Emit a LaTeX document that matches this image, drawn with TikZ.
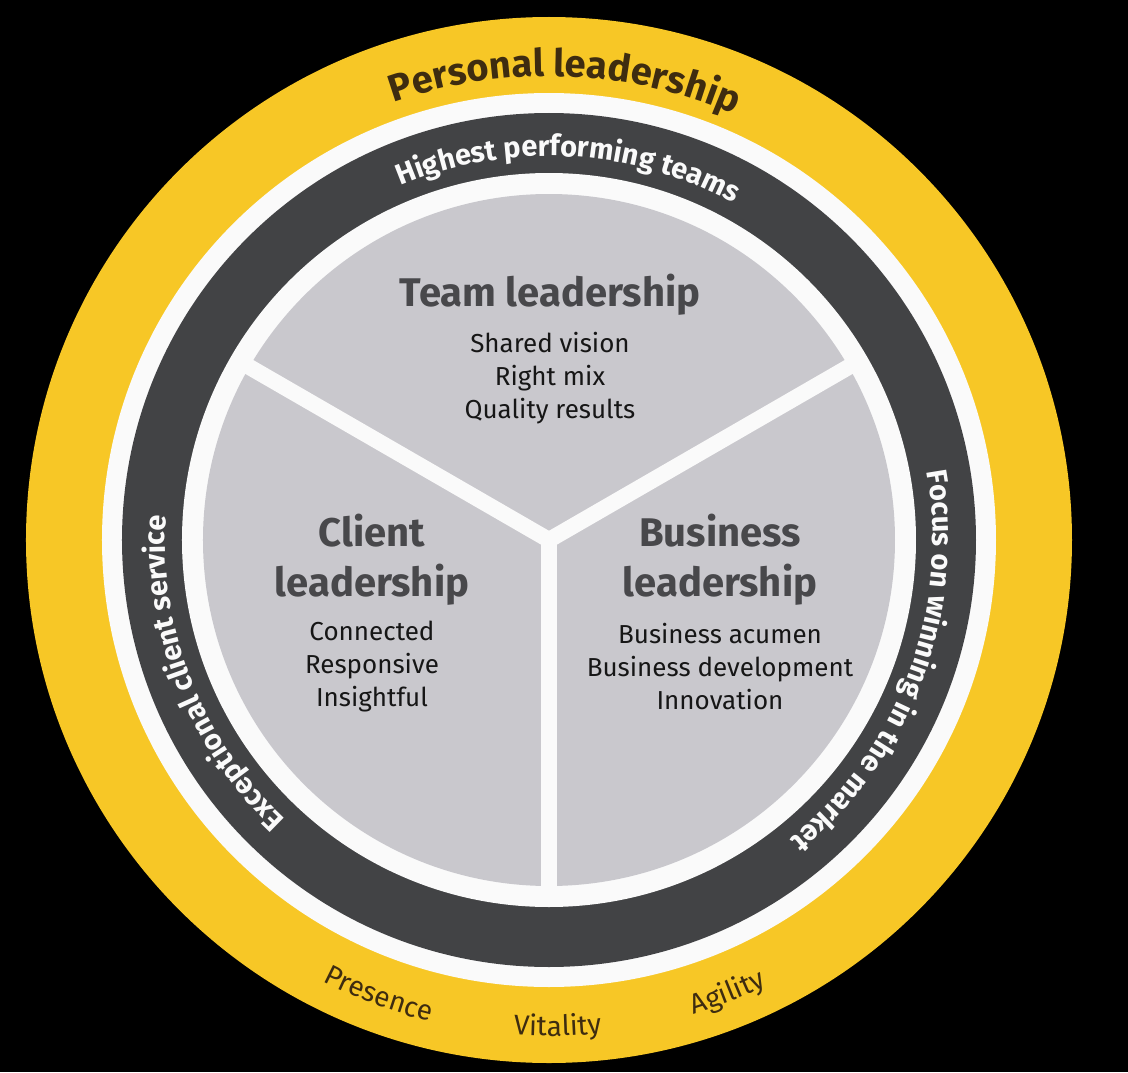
\documentclass[tikz,border=0pt]{standalone}
\usepackage{fontspec}
\setmainfont{Fira Sans}
\usepackage{xcolor}
\usepackage{tikz}
\usetikzlibrary{positioning, decorations.text}
\definecolor{eyyellow}{RGB}{247,199,38}
\definecolor{ringdark}{RGB}{66,67,69}
\definecolor{discgray}{RGB}{201,200,205}
\definecolor{headgray}{RGB}{72,72,75}
\definecolor{itemblack}{RGB}{22,22,22}
\definecolor{yellowtext}{RGB}{62,44,16}
\definecolor{offwhite}{RGB}{250,250,250}
\newcommand{\yellowringfont}{\fontsize{38}{38}\selectfont\bfseries}
\newcommand{\darkringfont}{\fontsize{29}{29}\selectfont\bfseries}
\newcommand{\traitfont}{\fontsize{28}{28}\selectfont}
\tikzstyle{heading} = [align=center, text=headgray, font=\fontsize{40}{50}\selectfont\bfseries]
\tikzstyle{items} = [align=center, text=itemblack, font=\fontsize{26}{33}\selectfont]
\tikzstyle{spoke} = [draw=offwhite, line width=16pt, line cap=round]
\tikzstyle{ringtext} = [decorate, decoration={text along path, text align=center}]

\begin{document}
\begin{tikzpicture}[x=1pt, y=1pt]
        \fill[black] (-549,-532) rectangle (579,540);
        \useasboundingbox (-549,-532) rectangle (579,540);
        \coordinate (hub) at (0,0);
        \fill[eyyellow] (hub) circle[radius=523pt];
        \fill[offwhite] (hub) circle[radius=447pt];
        \fill[ringdark] (hub) circle[radius=427pt];
        \fill[offwhite] (hub) circle[radius=367pt];
        \fill[discgray] (hub) circle[radius=346pt];

        \coordinate (spokeleft) at (150:350pt);
        \coordinate (spokeright) at (30:350pt);
        \coordinate (spokedown) at (270:350pt);
        \draw[spoke] (hub) -- (spokeleft);
        \draw[spoke] (hub) -- (spokeright);
        \draw[spoke] (hub) -- (spokedown);

        \node (teamhead) [heading] at (1,245) {Team leadership};
        \node (teamitems) [items, below of=teamhead, node distance=83pt] {Shared vision\\Right mix\\Quality results};
        \node (clienthead) [heading] at (-177,-20) {Client\\leadership};
        \node (clientitems) [items, below of=clienthead, node distance=107pt] {Connected\\Responsive\\Insightful};
        \node (businesshead) [heading] at (171,-20) {Business\\leadership};
        \node (businessitems) [items, below of=businesshead, node distance=107pt] {Business acumen\\Business development\\Innovation};

        \path[ringtext, decoration={text color=yellowtext, text={|\yellowringfont|Personal leadership}}] (128:464pt) arc[start angle=128, end angle=48, radius=464pt];
        \path[ringtext, decoration={text color=offwhite, text={|\darkringfont|Highest performing teams}}] (130:384pt) arc[start angle=130, end angle=44, radius=384pt];
        \path[ringtext, decoration={text color=offwhite, text={|\darkringfont|Exceptional client service}}] (250:384pt) arc[start angle=250, end angle=153, radius=384pt];
        \path[ringtext, decoration={text color=offwhite, text={|\darkringfont|Focus on winning in the market}}] (29:384pt) arc[start angle=29, end angle=-70, radius=384pt];
        \path[ringtext, decoration={text color=yellowtext, text={|\traitfont|Presence}}] (235:496pt) arc[start angle=235, end angle=264, radius=496pt];
        \path[ringtext, decoration={text color=yellowtext, text={|\traitfont|Vitality}}] (256:496pt) arc[start angle=256, end angle=286, radius=496pt];
        \path[ringtext, decoration={text color=yellowtext, text={|\traitfont|Agility}}] (277:496pt) arc[start angle=277, end angle=306, radius=496pt];
    \end{tikzpicture}
\end{document}
